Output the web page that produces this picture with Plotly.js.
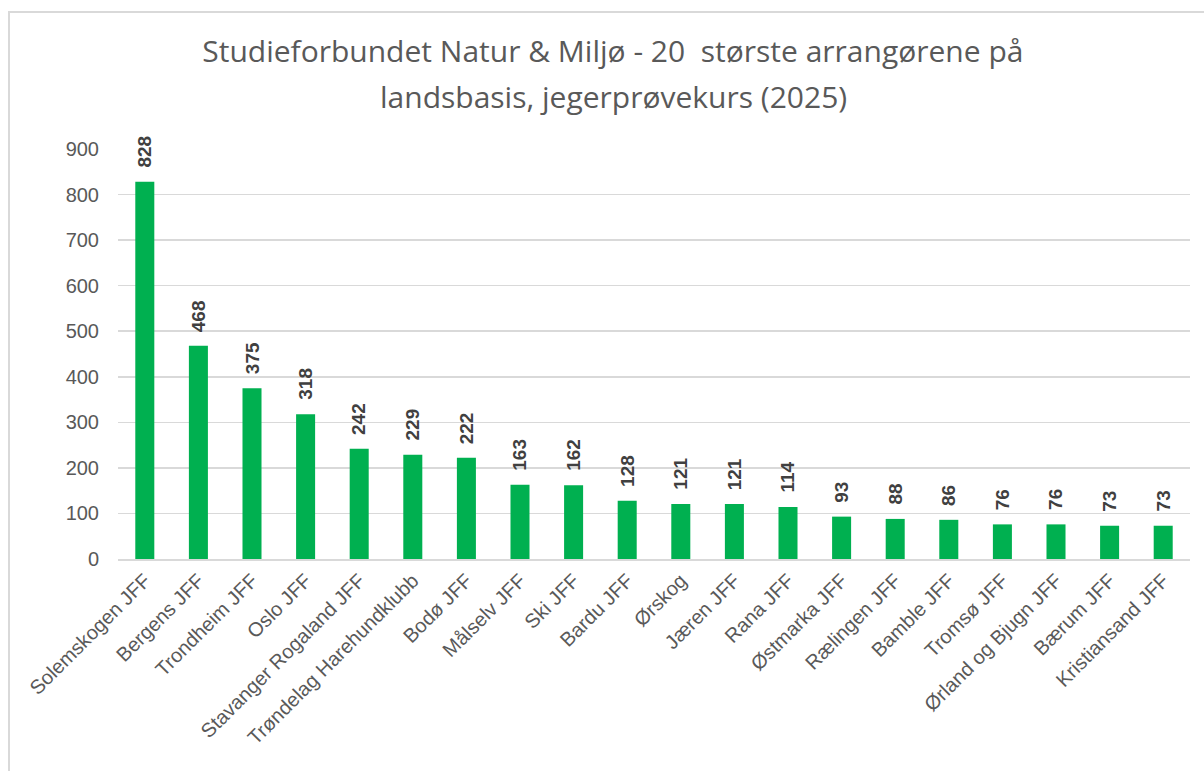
<!DOCTYPE html>
<html><head><meta charset="utf-8">
<script src="https://cdn.plot.ly/plotly-3.0.1.min.js"></script>
<style>
html,body{margin:0;padding:0;background:#fff;}
#wrap{position:relative;width:1204px;height:771px;overflow:hidden;}
#chart{position:absolute;left:0;top:0;width:1204px;height:771px;}
#frame{position:absolute;left:8px;top:11px;width:1220px;height:800px;border:2px solid #d9d9d9;pointer-events:none;box-sizing:border-box;}
</style></head>
<body><div id="wrap"><div id="chart"></div><div id="frame"></div></div>
<script>
const categories = ["Solemskogen JFF","Bergens JFF","Trondheim JFF","Oslo JFF","Stavanger Rogaland JFF","Trøndelag Harehundklubb","Bodø JFF","Målselv JFF","Ski JFF","Bardu JFF","Ørskog","Jæren JFF","Rana JFF","Østmarka JFF","Rælingen JFF","Bamble JFF","Tromsø JFF","Ørland og Bjugn JFF","Bærum JFF","Kristiansand JFF"];
const values = [828,468,375,318,242,229,222,163,162,128,121,121,114,93,88,86,76,76,73,73];
const titleLine1 = "Studieforbundet Natur & Miljø - 20  største arrangørene på";
const titleLine2 = "landsbasis, jegerprøvekurs (2025)";
const yTicks = [0,100,200,300,400,500,600,700,800,900];

const labelAnn = categories.map((c,i)=>({
  x:c, y:values[i], xref:'x', yref:'y', text:String(values[i]), showarrow:false,
  textangle:-90, yanchor:'bottom', xanchor:'center', yshift:12,
  font:{family:'Liberation Sans, Arial, sans-serif', size:19, color:'#404040', weight:'bold'}
}));

const trace = {type:'bar', x:categories, y:values, marker:{color:'#00B050'}, hoverinfo:'x+y'};

const layout = {
  width:1204, height:771,
  margin:{l:118, r:14, t:149, b:212},
  paper_bgcolor:'#fff', plot_bgcolor:'#fff',
  bargap:0.645,
  showlegend:false,
  title:{text:titleLine1, x:0.509, xanchor:'center', y:1-51/771, yanchor:'middle', yref:'container',
    font:{family:'Open Sans, sans-serif', size:30, color:'#595959'}},
  xaxis:{type:'category', tickangle:-45, showgrid:false, showline:true, linecolor:'#d9d9d9', linewidth:2,
    ticks:'', automargin:false, tickfont:{family:'Liberation Sans, Arial, sans-serif', size:20, color:'#595959'}},
  yaxis:{range:[0,900], tickvals:yTicks, ticktext:yTicks.map(String), showgrid:true, gridcolor:'#d9d9d9', gridwidth:1.5,
    zeroline:false, showline:false, ticks:'', ticklabelstandoff:18, automargin:false,
    tickfont:{family:'Liberation Sans, Arial, sans-serif', size:20, color:'#595959'}},
  annotations:[{text:titleLine2, xref:'paper', yref:'paper', x:(613-118)/1072, y:1+(149-97)/410, xanchor:'center', yanchor:'middle', showarrow:false,
    font:{family:'Open Sans, sans-serif', size:30, color:'#595959'}}].concat(labelAnn)
};
Plotly.newPlot('chart',[trace],layout,{displayModeBar:false,staticPlot:true});
</script></body></html>
